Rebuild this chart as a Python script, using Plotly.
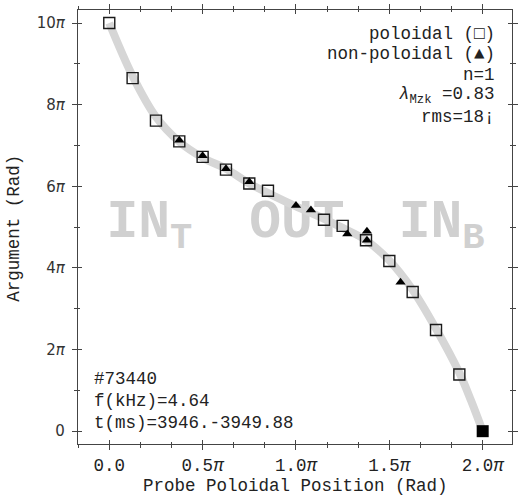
import plotly.graph_objects as go

# ---- data (x and y expressed in units of pi) ----
curve_x = [0.0, 0.125, 0.25, 0.375, 0.5, 0.625, 0.75, 0.875, 1.0, 1.125, 1.25, 1.375, 1.5, 1.625, 1.75, 1.875, 1.9375, 2.0]
curve_y = [10.0, 8.70, 7.70, 7.09, 6.70, 6.43, 6.07, 5.78, 5.51, 5.26, 4.98, 4.68, 4.18, 3.46, 2.51, 1.43, 0.75, 0.0]

pol_x = [0.0, 0.125, 0.25, 0.375, 0.5, 0.625, 0.75, 0.85, 1.15, 1.25, 1.375, 1.5, 1.625, 1.75, 1.875]
pol_y = [10.0, 8.65, 7.61, 7.10, 6.72, 6.41, 6.07, 5.89, 5.18, 5.03, 4.68, 4.17, 3.41, 2.48, 1.39]

ref_x = [2.0]
ref_y = [0.0]

np_x = [0.375, 0.5, 0.625, 0.75, 1.0, 1.08, 1.275, 1.38, 1.38, 1.56]
np_y = [7.13, 6.75, 6.43, 6.11, 5.53, 5.42, 4.83, 4.90, 4.68, 3.65]

x_ticks = [0.0, 0.5, 1.0, 1.5, 2.0]
x_ticktext = ["0.0", "0.5<i>π</i>", "1.0<i>π</i>", "1.5<i>π</i>", "2.0<i>π</i>"]
y_ticks = [0, 2, 4, 6, 8, 10]
y_ticktext = ["0", "2<i>π</i>", "4<i>π</i>", "6<i>π</i>", "8<i>π</i>", "10<i>π</i>"]

info_right = ["poloidal (□)", "non-poloidal (▲)", "n=1", "<i>λ</i><sub>Mzk</sub> =0.83", "rms=18¡"]
info_left = ["#73440", "f(kHz)=4.64", "t(ms)=3946.-3949.88"]
region_text = ["<b>IN<sub>T</sub></b>", "<b>OUT</b>", "<b>IN<sub>B</sub></b>"]
region_x = [0.215, 1.005, 1.78]
region_y = [5.08, 5.08, 5.08]

X_RANGE = [-0.1675, 2.157]
Y_RANGE = [-0.314, 10.32]

MONO = "Liberation Mono, Courier New, monospace"
SANS = "DejaVu Sans, sans-serif"
TXT = "#222222"
AX = "#444444"
FS = 17.5

# plot area in pixels: left 78, right 518, top 4, bottom 444
L, R, T, B = 78, 518, 4, 444
W, H = 522, 499


def px(x):
    return (x - L) / (R - L)


def py(y):
    return (B - y) / (B - T)


fig = go.Figure()

# region labels drawn underneath everything
fig.add_trace(go.Scatter(x=region_x, y=region_y, mode="text", text=region_text,
                         textposition="middle center",
                         textfont=dict(family=MONO, size=53, color="#d0d0d0"),
                         hoverinfo="skip", showlegend=False))
fig.add_trace(go.Scatter(x=curve_x, y=curve_y, mode="lines",
                         line=dict(color="#d6d6d6", width=8, shape="spline", smoothing=1.0),
                         hoverinfo="skip", showlegend=False))
fig.add_trace(go.Scatter(x=pol_x, y=pol_y, mode="markers",
                         marker=dict(symbol="square-open", size=11, color="#1a1a1a",
                                     line=dict(width=1.4, color="#1a1a1a")),
                         showlegend=False))
fig.add_trace(go.Scatter(x=ref_x, y=ref_y, mode="markers",
                         marker=dict(symbol="square", size=12, color="#000000",
                                     line=dict(width=0)),
                         showlegend=False))
fig.add_trace(go.Scatter(x=np_x, y=np_y, mode="markers",
                         marker=dict(symbol="triangle-up", size=9, color="#000000",
                                     line=dict(width=0)),
                         showlegend=False))
# empty trace so the overlay (inner-tick) axes exist
fig.add_trace(go.Scatter(x=[], y=[], xaxis="x2", yaxis="y2", showlegend=False))

common = dict(showgrid=False, zeroline=False)

fig.update_layout(
    width=W, height=H,
    margin=dict(l=L, r=W - R, t=T, b=H - B),
    paper_bgcolor="white", plot_bgcolor="white",
    xaxis=dict(range=X_RANGE, tickmode="array", tickvals=x_ticks, ticktext=x_ticktext,
               ticks="outside", ticklen=5, tickwidth=1, tickcolor=AX,
               showline=True, linecolor=AX, linewidth=1.2, mirror="allticks",
               tickfont=dict(family=MONO, size=FS, color=TXT),
               minor=dict(tickmode="linear", tick0=0, dtick=1 / 6, ticks="outside",
                          ticklen=3, tickwidth=1, tickcolor=AX),
               **common),
    yaxis=dict(range=Y_RANGE, tickmode="array", tickvals=y_ticks, ticktext=y_ticktext,
               ticks="outside", ticklen=5, tickwidth=1, tickcolor=AX,
               showline=True, linecolor=AX, linewidth=1.2, mirror="allticks",
               tickfont=dict(family=SANS, size=15, color="#333333"),
               ticklabelstandoff=4,
               minor=dict(tickmode="linear", tick0=0, dtick=1, ticks="outside",
                          ticklen=3, tickwidth=1, tickcolor=AX),
               **common),
    xaxis2=dict(range=X_RANGE, overlaying="x", anchor="y2", side="bottom",
                tickmode="array", tickvals=x_ticks, showticklabels=False,
                ticks="inside", ticklen=4, tickwidth=1, tickcolor=AX,
                showline=False, mirror="allticks",
                minor=dict(tickmode="linear", tick0=0, dtick=1 / 6, ticks="inside",
                           ticklen=2, tickwidth=1, tickcolor=AX),
                **common),
    yaxis2=dict(range=Y_RANGE, overlaying="y", anchor="x2", side="left",
                tickmode="array", tickvals=y_ticks, showticklabels=False,
                ticks="inside", ticklen=4, tickwidth=1, tickcolor=AX,
                showline=False, mirror="allticks",
                minor=dict(tickmode="linear", tick0=0, dtick=1, ticks="inside",
                           ticklen=2, tickwidth=1, tickcolor=AX),
                **common),
)

ann = []
# top-right info block
for i, t in enumerate(info_right):
    ann.append(dict(text=t, xref="paper", yref="paper", x=px(503), y=py(28 + 21 * i),
                    xanchor="right", yanchor="middle", showarrow=False,
                    font=dict(family=MONO, size=FS, color=TXT)))
# bottom-left info block
for i, t in enumerate(info_left):
    ann.append(dict(text=t, xref="paper", yref="paper", x=px(92), y=py(378 + 22.5 * i),
                    xanchor="left", yanchor="middle", showarrow=False,
                    font=dict(family=MONO, size=FS, color=TXT)))
# axis titles
ann.append(dict(text="Probe Poloidal Position (Rad)", xref="paper", yref="paper",
                x=px(298), y=py(487), xanchor="center", yanchor="middle", showarrow=False,
                font=dict(family=MONO, size=FS, color=TXT)))
ann.append(dict(text="Argument (Rad)", xref="paper", yref="paper",
                x=px(13), y=py(225), xanchor="center", yanchor="middle", showarrow=False,
                textangle=-90, font=dict(family=MONO, size=FS, color=TXT)))
fig.update_layout(annotations=ann)

fig.write_html("out.html")
